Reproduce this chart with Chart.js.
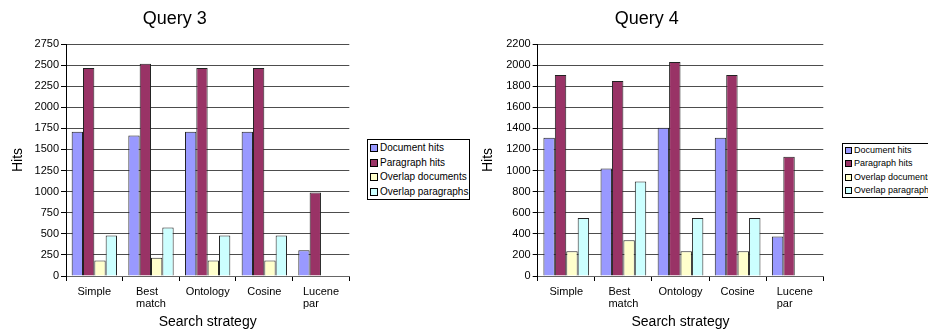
<!DOCTYPE html>
<html>
<head>
<meta charset="utf-8">
<script src="https://cdn.jsdelivr.net/npm/chart.js@4/dist/chart.umd.min.js"></script>
<style>
  html, body { margin: 0; padding: 0; background: #fff; width: 928px; height: 336px; overflow: hidden; }
  #wrap { position: relative; width: 928px; height: 336px; overflow: hidden; }
  canvas { position: absolute; top: 0; }
  .legend { position: absolute; border: 1px solid #000; background: #fff; font-family: 'Liberation Sans', Arial, sans-serif; color: #000; box-sizing: border-box; white-space: nowrap; }
  .legend .row { position: relative; }
  .legend .sw { position: absolute; left: 2px; border: 1px solid #000; box-sizing: border-box; }
</style>
</head>
<body>
<div id="wrap">
  <canvas id="q3" width="470" height="336" style="left:0px"></canvas>
  <canvas id="q4" width="474" height="336" style="left:470px"></canvas>
  <div id="leg3" class="legend"></div>
  <div id="leg4" class="legend"></div>
</div>
<script>
// Categories (search strategies) and series
const categories = ['Simple', ['Best', 'match'], 'Ontology', 'Cosine', ['Lucene', 'par']];
const seriesNames = ['Document hits', 'Paragraph hits', 'Overlap documents', 'Overlap paragraphs'];
const seriesColors = ['#9999ff', '#993366', '#ffffcc', '#ccffff'];

// Query 3 hit counts
const q3DocumentHits = [1710, 1665, 1710, 1710, 305];
const q3ParagraphHits = [2465, 2515, 2465, 2465, 990];
const q3OverlapDocuments = [185, 215, 185, 185, null];
const q3OverlapParagraphs = [480, 575, 480, 480, null];

// Query 4 hit counts
const q4DocumentHits = [1310, 1020, 1405, 1310, 375];
const q4ParagraphHits = [1905, 1850, 2030, 1905, 1130];
const q4OverlapDocuments = [235, 340, 235, 235, null];
const q4OverlapParagraphs = [550, 895, 550, 550, null];

// Axis ranges
const q3Axis = { max: 2750, step: 250 };
const q4Axis = { max: 2200, step: 200 };

const FONT = "'Liberation Sans', Arial, sans-serif";
Chart.defaults.font.family = FONT;
Chart.defaults.color = '#000';

// Category labels: each multi-line label is a left-aligned block centred under its category
const blockLabels = {
  id: 'blockLabels',
  afterDraw(chart) {
    const scale = chart.scales.x;
    const ctx = chart.ctx;
    ctx.save();
    ctx.font = '11px ' + FONT;
    ctx.fillStyle = '#000';
    ctx.textAlign = 'left';
    ctx.textBaseline = 'alphabetic';
    const base = chart.chartArea.bottom + 18.5;
    chart.data.labels.forEach((label, i) => {
      const lines = Array.isArray(label) ? label : [label];
      const w = Math.max(...lines.map(l => ctx.measureText(l).width));
      const left = scale.getPixelForTick(i) - w / 2;
      lines.forEach((line, j) => ctx.fillText(line, left, base + j * 12.2));
    });
    ctx.restore();
  }
};

function makeChart(id, title, values, axis, yWidth, rightPad) {
  const datasets = values.map((v, i) => ({
    label: seriesNames[i],
    data: v,
    backgroundColor: seriesColors[i],
    borderColor: '#222',
    borderWidth: 1,
    borderSkipped: 'bottom',
    categoryPercentage: 0.8,
    barPercentage: 1.0
  }));
  return new Chart(document.getElementById(id), {
    type: 'bar',
    data: { labels: categories, datasets },
    plugins: [blockLabels],
    options: {
      responsive: false,
      animation: false,
      layout: { padding: { left: 0, right: rightPad, top: 0, bottom: 0 } },
      plugins: {
        legend: { display: false },
        tooltip: { enabled: false },
        title: {
          display: true,
          text: title,
          color: '#000',
          font: { size: 18, weight: 'normal', family: FONT },
          padding: { top: 8.7, bottom: 13.7 }
        }
      },
      scales: {
        x: {
          grid: { offset: true, drawOnChartArea: false, tickLength: 5, color: '#000' },
          border: { color: '#666' },
          ticks: { display: false },
          title: { display: true, text: 'Search strategy', color: '#000', font: { size: 14 }, padding: { top: 0, bottom: 5 } },
          afterFit: s => { s.height = 60; }
        },
        y: {
          min: 0,
          max: axis.max,
          ticks: { stepSize: axis.step, font: { size: 11 }, color: '#000', padding: 2, callback: v => String(v) },
          grid: { color: '#4d4d4d', tickColor: '#000', tickLength: 5 },
          border: { color: '#000' },
          title: { display: true, text: 'Hits', color: '#000', font: { size: 14 }, padding: { top: 10, bottom: 0 } },
          afterFit: s => { s.width = yWidth; }
        }
      }
    }
  });
}

function makeLegend(id, box, fontSize, rowH, swatch) {
  const el = document.getElementById(id);
  el.style.left = box.x + 'px';
  el.style.top = box.y + 'px';
  el.style.width = box.w + 'px';
  el.style.height = box.h + 'px';
  el.style.fontSize = fontSize + 'px';
  el.style.paddingTop = box.pad + 'px';
  seriesNames.forEach((name, i) => {
    const row = document.createElement('div');
    row.className = 'row';
    row.style.height = rowH + 'px';
    row.style.lineHeight = rowH + 'px';
    row.style.paddingLeft = (swatch + 4) + 'px';
    const sw = document.createElement('span');
    sw.className = 'sw';
    sw.style.width = swatch + 'px';
    sw.style.height = swatch + 'px';
    sw.style.top = ((rowH - swatch) / 2) + 'px';
    sw.style.background = seriesColors[i];
    row.appendChild(sw);
    row.appendChild(document.createTextNode(name));
    el.appendChild(row);
  });
}

makeChart('q3', 'Query 3', [q3DocumentHits, q3ParagraphHits, q3OverlapDocuments, q3OverlapParagraphs], q3Axis, 66, 120.7);
makeChart('q4', 'Query 4', [q4DocumentHits, q4ParagraphHits, q4OverlapDocuments, q4OverlapParagraphs], q4Axis, 67.7, 120.7);

makeLegend('leg3', { x: 367, y: 139, w: 103, h: 61, pad: 1 }, 10, 14.5, 8);
makeLegend('leg4', { x: 842, y: 143, w: 100, h: 55, pad: 0 }, 9, 13.3, 7);
</script>
</body>
</html>
